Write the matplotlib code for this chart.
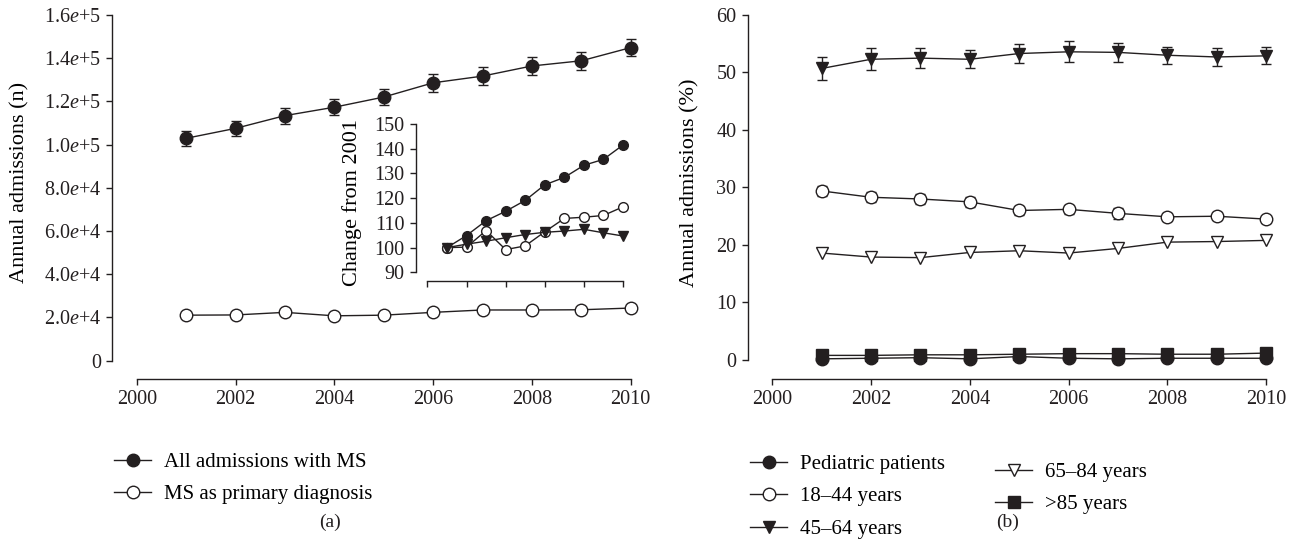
"""MS admissions 2001-2010: (a) counts with inset, (b) share by age group."""
import matplotlib
matplotlib.use("Agg")
import matplotlib.pyplot as plt
from matplotlib.lines import Line2D

plt.rcParams.update({
    "font.family": ["Liberation Serif", "DejaVu Serif"],
    "mathtext.fontset": "custom",
    "mathtext.rm": "Liberation Serif",
    "mathtext.it": "Liberation Serif:italic",
    "font.size": 14.5,
    "axes.linewidth": 1.0,
})

INK = "#231f20"
TICK_FS = 14.5
LABEL_FS = 16
LEGEND_FS = 15

years = [2001, 2002, 2003, 2004, 2005, 2006, 2007, 2008, 2009, 2010]

# panel (a): annual admissions (n)
all_ms = [102900, 107500, 113400, 117300, 122000, 128600, 131700, 136400, 138800, 144900]
all_ms_err = [3500, 3600, 3700, 3800, 3900, 4100, 4100, 4200, 4200, 3900]
primary_ms = [21000, 21100, 22300, 20700, 21000, 22300, 23400, 23400, 23500, 24300]
a_yticks = [0, 20000, 40000, 60000, 80000, 100000, 120000, 140000, 160000]
a_ylabels = ["0", "2.0$\\mathit{e}$+4", "4.0$\\mathit{e}$+4", "6.0$\\mathit{e}$+4",
             "8.0$\\mathit{e}$+4", "1.0$\\mathit{e}$+5", "1.2$\\mathit{e}$+5",
             "1.4$\\mathit{e}$+5", "1.6$\\mathit{e}$+5"]

# inset: change from 2001
chg_all = [100, 104.9, 110.9, 114.7, 119.1, 125.4, 128.4, 133.3, 135.7, 141.5]
chg_primary = [100, 100.2, 106.9, 99.2, 100.7, 106.4, 111.8, 112.3, 113.0, 116.5]
chg_tri = [100, 101.4, 102.6, 104.0, 105.3, 106.2, 106.7, 107.4, 106.0, 104.7]

# panel (b): annual admissions (%) by age group
pediatric = [0.2, 0.3, 0.4, 0.2, 0.6, 0.3, 0.2, 0.3, 0.3, 0.3]
age18_44 = [29.4, 28.3, 28.0, 27.5, 26.0, 26.2, 25.5, 24.9, 25.0, 24.5]
age18_44_err = [0.9, 0.9, 0.9, 0.9, 0.7, 0.8, 0.9, 0.7, 0.7, 0.6]
age45_64 = [50.7, 52.3, 52.5, 52.3, 53.3, 53.6, 53.5, 53.0, 52.7, 52.9]
age45_64_err = [2.0, 1.9, 1.8, 1.6, 1.7, 1.8, 1.6, 1.5, 1.6, 1.5]
age65_84 = [18.6, 17.9, 17.8, 18.7, 19.0, 18.6, 19.4, 20.5, 20.6, 20.8]
age85 = [0.8, 0.8, 0.9, 0.9, 1.0, 1.1, 1.1, 1.0, 1.0, 1.2]
b_yticks = [0, 10, 20, 30, 40, 50, 60]

xticks = [2000, 2002, 2004, 2006, 2008, 2010]


def style_axes(ax, ybounds):
    for side in ("top", "right"):
        ax.spines[side].set_visible(False)
    ax.spines["left"].set_bounds(*ybounds)
    ax.spines["bottom"].set_bounds(2000, 2010)
    ax.spines["left"].set_color(INK)
    ax.spines["bottom"].set_color(INK)
    ax.tick_params(direction="out", length=4, width=1.0, pad=4, colors=INK,
                   labelcolor=INK, labelsize=TICK_FS)


def series(ax, y, marker, face, err=None, ms=9):
    ax.errorbar(years, y, yerr=err, color=INK, marker=marker, ms=ms,
                mfc=face, mec=INK, mew=1.0, lw=1.0, capsize=3.8, elinewidth=1.0,
                capthick=1.0, clip_on=False, zorder=3)


def handle(marker, face, ms=9):
    return Line2D([], [], color=INK, marker=marker, mfc=face, mec=INK, ms=ms,
                  lw=1.0)


legend_kw = dict(loc="upper left", frameon=False, fontsize=LEGEND_FS,
                 handlelength=1.75, handletextpad=0.65, labelspacing=0.62,
                 borderaxespad=0)

fig = plt.figure(figsize=(12.95, 5.58), dpi=100)
W, H = 1295.0, 558.0

# ---- panel (a)
ax_a = fig.add_axes([112 / W, 1 - 379.3 / H, 518.7 / W, (379.3 - 15) / H])
series(ax_a, all_ms, "o", INK, all_ms_err)
series(ax_a, primary_ms, "o", "white")
ax_a.set_xlim(1999.5, 2010)
ax_a.set_ylim(-8700, 160000)
ax_a.set_yticks(a_yticks)
ax_a.set_yticklabels(a_ylabels)
ax_a.set_xticks(xticks)
style_axes(ax_a, (0, 160000))
ax_a.set_ylabel("Annual admissions (n)", fontsize=LABEL_FS)
ax_a.yaxis.set_label_coords((29 - 112) / 518.7, 0.54)

fig.legend([handle("o", INK), handle("o", "white")],
           ["All admissions with MS", "MS as primary diagnosis"],
           bbox_to_anchor=(106 / W, 1 - 444 / H), **legend_kw)
fig.text(330 / W, 1 - 522 / H, "(a)", ha="center", va="center", fontsize=14,
         color=INK)

# ---- inset
ax_in = fig.add_axes([415.7 / W, 1 - 281 / H, 207.3 / W, (281 - 124) / H])
for y, face, mk in [(chg_all, INK, "o"), (chg_primary, "white", "o"),
                    (chg_tri, INK, "v")]:
    series(ax_in, y, mk, face, ms=7)
ax_in.set_xlim(1999.4, 2010)
ax_in.set_ylim(86.5, 150)
ax_in.set_yticks([90, 100, 110, 120, 130, 140, 150])
ax_in.set_xticks(xticks)
ax_in.set_xticklabels([])
style_axes(ax_in, (90, 150))
ax_in.patch.set_alpha(0)
ax_in.set_ylabel("Change from 2001", fontsize=LABEL_FS)
ax_in.yaxis.set_label_coords((362 - 415.7) / 207.3, 0.5)

# ---- panel (b)
ax_b = fig.add_axes([747.5 / W, 1 - 379.3 / H, 518.7 / W, (379.3 - 15) / H])
series(ax_b, pediatric, "o", INK)
series(ax_b, age18_44, "o", "white", age18_44_err)
series(ax_b, age45_64, "v", INK, age45_64_err)
series(ax_b, age65_84, "v", "white")
series(ax_b, age85, "s", INK, ms=8)
ax_b.set_xlim(1999.5, 2010)
ax_b.set_ylim(-3.36, 60)
ax_b.set_yticks(b_yticks)
ax_b.set_xticks(xticks)
style_axes(ax_b, (0, 60))
ax_b.set_ylabel("Annual admissions (%)", fontsize=LABEL_FS)
ax_b.yaxis.set_label_coords((699 - 747.5) / 518.7, 0.54)

fig.legend([handle("o", INK), handle("o", "white"), handle("v", INK)],
           ["Pediatric patients", "18\u201344 years", "45\u201364 years"],
           bbox_to_anchor=(742 / W, 1 - 446 / H), **legend_kw)
fig.legend([handle("v", "white"), handle("s", INK, ms=8)],
           ["65\u201384 years", ">85 years"],
           bbox_to_anchor=(987 / W, 1 - 454 / H), **legend_kw)
fig.text(1008 / W, 1 - 522 / H, "(b)", ha="center", va="center", fontsize=14,
         color=INK)

fig.savefig("out.png", dpi=100)
